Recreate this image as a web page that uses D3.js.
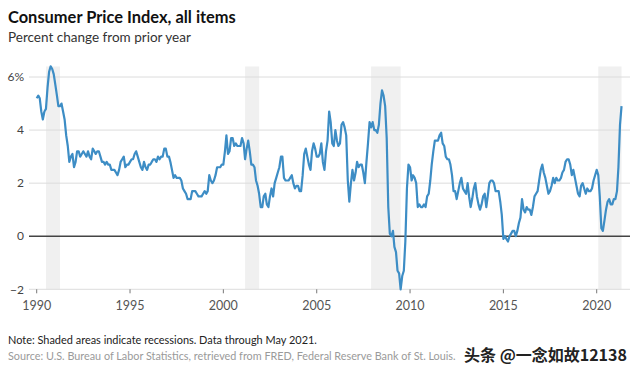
<!DOCTYPE html>
<html>
<head>
<meta charset="utf-8">
<script src="https://cdn.jsdelivr.net/npm/d3@7.9.0/dist/d3.min.js"></script>
<style>
  html, body { margin: 0; padding: 0; background: #fff; }
  svg { display: block; font-family: Lato, 'Noto Sans', sans-serif; }
</style>
</head>
<body>
<svg id="chart" width="640" height="374"></svg>
<script>
// ====== Data ======
const startYear = 1990;
// CPI all items, % change from prior year, monthly from Jan 1990 to May 2021
const cpiYoY = [
  5.2, 5.3, 5.2, 4.7, 4.4, 4.7, 4.8, 5.6, 6.2, 6.4, 6.3, 6.1,
  5.7, 5.3, 4.9, 4.9, 5.0, 4.7, 4.4, 3.8, 3.4, 2.8, 3.0, 3.1,
  2.6, 2.8, 3.2, 3.2, 3.0, 3.1, 3.2, 3.1, 3.0, 3.2, 3.0, 2.9,
  3.3, 3.2, 3.1, 3.2, 3.2, 3.0, 2.8, 2.8, 2.7, 2.8, 2.7, 2.7,
  2.5, 2.5, 2.5, 2.4, 2.3, 2.5, 2.8, 2.9, 3.0, 2.6, 2.7, 2.7,
  2.8, 2.9, 2.9, 3.1, 3.2, 3.0, 2.8, 2.6, 2.5, 2.8, 2.6, 2.5,
  2.7, 2.7, 2.8, 2.9, 2.9, 2.8, 3.0, 2.9, 3.0, 3.0, 3.3, 3.3,
  3.0, 3.0, 2.8, 2.5, 2.2, 2.3, 2.2, 2.2, 2.2, 2.1, 1.8, 1.7,
  1.6, 1.4, 1.4, 1.4, 1.7, 1.7, 1.7, 1.6, 1.5, 1.5, 1.5, 1.6,
  1.7, 1.6, 1.7, 2.3, 2.1, 2.0, 2.1, 2.3, 2.6, 2.6, 2.6, 2.7,
  2.7, 3.2, 3.8, 3.1, 3.2, 3.7, 3.7, 3.4, 3.5, 3.4, 3.4, 3.4,
  3.7, 3.5, 2.9, 3.3, 3.6, 3.2, 2.7, 2.7, 2.6, 2.1, 1.9, 1.6,
  1.1, 1.1, 1.5, 1.6, 1.2, 1.1, 1.5, 1.8, 1.5, 2.0, 2.2, 2.4,
  2.6, 3.0, 3.0, 2.2, 2.1, 2.1, 2.1, 2.2, 2.3, 2.0, 1.8, 1.9,
  1.9, 1.7, 1.7, 2.3, 3.1, 3.3, 3.0, 2.7, 2.5, 3.2, 3.5, 3.3,
  3.0, 3.0, 3.1, 3.5, 2.8, 2.5, 3.2, 3.6, 4.7, 4.3, 3.5, 3.4,
  4.0, 3.6, 3.4, 3.5, 4.2, 4.3, 4.1, 3.8, 2.1, 1.3, 2.0, 2.5,
  2.1, 2.4, 2.8, 2.6, 2.7, 2.7, 2.4, 2.0, 2.8, 3.5, 4.3, 4.1,
  4.3, 4.0, 4.0, 3.9, 4.2, 5.0, 5.5, 5.3, 4.9, 3.7, 1.1, 0.1,
  0.0, 0.2, -0.4, -0.6, -1.3, -1.4, -2.0, -1.5, -1.3, -0.2, 1.8, 2.7,
  2.6, 2.1, 2.3, 2.2, 2.0, 1.1, 1.2, 1.1, 1.1, 1.2, 1.1, 1.5,
  1.6, 2.1, 2.7, 3.2, 3.6, 3.6, 3.6, 3.8, 3.9, 3.5, 3.4, 3.0,
  2.9, 2.9, 2.7, 2.3, 1.7, 1.7, 1.4, 1.7, 2.0, 2.2, 1.8, 1.7,
  1.6, 2.0, 1.5, 1.1, 1.4, 1.8, 2.0, 1.5, 1.2, 1.0, 1.2, 1.5,
  1.6, 1.1, 1.5, 2.0, 2.1, 2.1, 2.0, 1.7, 1.7, 1.7, 1.3, 0.8,
  -0.1, 0.0, -0.1, -0.2, 0.0, 0.1, 0.2, 0.2, 0.0, 0.2, 0.5, 0.7,
  1.4, 1.0, 0.9, 1.1, 1.0, 1.0, 0.8, 1.1, 1.5, 1.6, 1.7, 2.1,
  2.5, 2.7, 2.4, 2.2, 1.9, 1.6, 1.7, 1.9, 2.2, 2.0, 2.2, 2.1,
  2.1, 2.2, 2.4, 2.5, 2.8, 2.9, 2.9, 2.7, 2.3, 2.5, 2.2, 1.9,
  1.6, 1.5, 1.9, 2.0, 1.8, 1.6, 1.8, 1.7, 1.7, 1.8, 2.1, 2.3,
  2.5, 2.3, 1.5, 0.3, 0.2, 0.6, 1.0, 1.3, 1.4, 1.2, 1.2, 1.4,
  1.4, 1.7, 2.6, 4.2, 4.9
];
// recessions as [start, end] months
const recessionStarts = ['1990-07', '2001-03', '2007-12', '2020-02'];
const recessionEnds = ['1991-03', '2001-11', '2009-06', '2021-05'];
const yTicks = [-2, 0, 2, 4, 6];
const xTickYears = [1990, 1995, 2000, 2005, 2010, 2015, 2020];

const title = 'Consumer Price Index, all items';
const subtitle = 'Percent change from prior year';
const note = 'Note: Shaded areas indicate recessions. Data through May 2021.';
const source = 'Source: U.S. Bureau of Labor Statistics, retrieved from FRED, Federal Reserve Bank of St. Louis.';
const watermark = '头条 @一念如故12138';

// ====== Setup ======
const svg = d3.select('#chart');
const parseMonth = d3.timeParse('%Y-%m');

const data = cpiYoY.map((v, i) => ({
  date: new Date(startYear + Math.floor(i / 12), i % 12, 1),
  value: v,
}));

const x = d3.scaleTime()
  .domain([new Date(1990, 0, 1), new Date(2020, 0, 1)])
  .range([36.7, 596.7]);
const y = d3.scaleLinear().domain([-2, 6]).range([289.3, 77]);

// shrink/grow font so the text spans roughly the given width
function fitText(sel, width) {
  const w = sel.node().getComputedTextLength();
  const fs = +sel.attr('font-size');
  if (w > 0) sel.attr('font-size', (fs * width / w).toFixed(2));
}

// ====== Recession shading ======
recessionStarts.forEach((s, i) => {
  const x0 = x(parseMonth(s));
  const x1 = x(d3.timeMonth.offset(parseMonth(recessionEnds[i]), i === 3 ? 0 : 1));
  svg.append('rect')
    .attr('x', x0)
    .attr('y', 66.5)
    .attr('width', x1 - x0)
    .attr('height', y(-2) - 66.5)
    .attr('fill', '#f0f0f0');
});

// ====== Gridlines + y labels ======
yTicks.forEach((t) => {
  svg.append('line')
    .attr('x1', 29).attr('x2', 630)
    .attr('y1', y(t)).attr('y2', y(t))
    .attr('stroke', t === 0 ? '#444' : '#dcdcdc')
    .attr('stroke-width', t === 0 ? 1.3 : 1);
  svg.append('text')
    .attr('x', 24)
    .attr('y', y(t))
    .attr('dy', '0.35em')
    .attr('text-anchor', 'end')
    .attr('font-size', 12)
    .attr('fill', '#444')
    .text(t === 6 ? '6%' : (t < 0 ? '\u2212' + Math.abs(t) : t));
});

// ====== X axis ticks ======
xTickYears.forEach((yr) => {
  const xp = x(new Date(yr, 0, 1));
  svg.append('line')
    .attr('x1', xp).attr('x2', xp)
    .attr('y1', y(-2)).attr('y2', y(-2) + 4)
    .attr('stroke', '#777');
  svg.append('text')
    .attr('x', xp)
    .attr('y', 306)
    .attr('dy', '0.35em')
    .attr('text-anchor', 'middle')
    .attr('font-size', 12.5)
    .attr('fill', '#555')
    .text(yr);
});

// ====== Line ======
const line = d3.line()
  .x((d) => x(d.date))
  .y((d) => y(d.value));

svg.append('path')
  .datum(data)
  .attr('d', line)
  .attr('fill', 'none')
  .attr('stroke', '#3d8dc5')
  .attr('stroke-width', 2.2)
  .attr('stroke-linejoin', 'round');

// ====== Titles & notes ======
const titleText = svg.append('text')
  .attr('x', 8).attr('y', 22.7)
  .attr('font-size', 16.5)
  .attr('font-weight', 700)
  .attr('fill', '#111')
  .text(title);
fitText(titleText, 228);

const subText = svg.append('text')
  .attr('x', 8).attr('y', 41.7)
  .attr('font-size', 13.3)
  .attr('fill', '#333')
  .text(subtitle);
fitText(subText, 183);

const noteText = svg.append('text')
  .attr('x', 8).attr('y', 344)
  .attr('font-size', 11)
  .attr('fill', '#222')
  .text(note);
fitText(noteText, 309);

const sourceText = svg.append('text')
  .attr('x', 8).attr('y', 360)
  .attr('font-size', 10.5)
  .attr('fill', '#9a9a9a')
  .text(source);
fitText(sourceText, 448);

svg.append('text')
  .attr('x', 464).attr('y', 361)
  .attr('font-size', 16)
  .attr('font-weight', 700)
  .attr('font-family', "'Noto Sans CJK SC', sans-serif")
  .attr('fill', '#222')
  .text(watermark);
</script>
</body>
</html>
